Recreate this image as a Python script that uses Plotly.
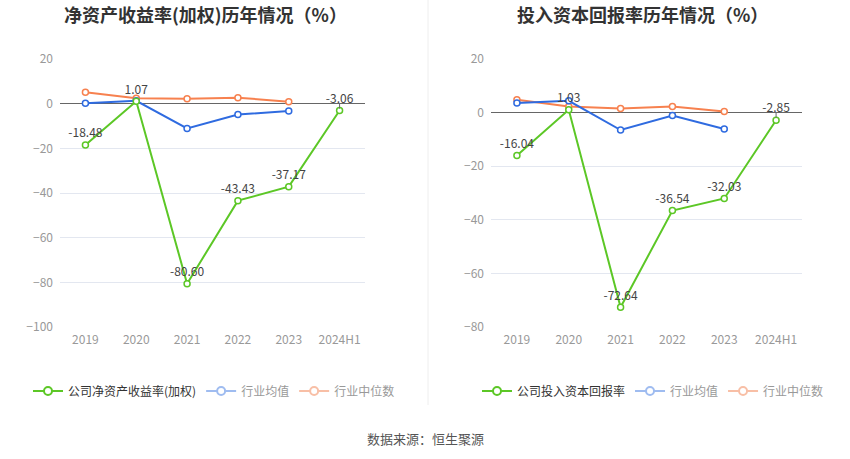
import plotly.graph_objects as go

years = ["2019", "2020", "2021", "2022", "2023", "2024H1"]

roe_company = [-18.48, 1.07, -80.60, -43.43, -37.17, -3.06]
roe_avg = [0.2, 1.3, -11.1, -4.9, -3.3, None]
roe_median = [5.1, 2.4, 2.2, 2.7, 0.9, None]

roic_company = [-16.04, 1.03, -72.64, -36.54, -32.03, -2.85]
roic_avg = [3.6, 4.4, -6.5, -1.1, -6.1, None]
roic_median = [4.8, 2.3, 1.5, 2.3, 0.4, None]

GREEN = "#5cc726"
BLUE = "#2f6be0"
ORANGE = "#f7814f"
BLUE_L = "#9fbcf0"
ORANGE_L = "#f8bfa6"
FONT = "Noto Sans CJK SC"

W, H = 850, 459


def px(p):
    return p / W


def py(p):
    return 1 - p / H


fig = go.Figure()


def add_panel(xa, ya, comp, avg, med, comp_name, legend):
    common = dict(mode="lines+markers", xaxis=xa, yaxis=ya, showlegend=False,
                  hoverinfo="x+y")
    fig.add_trace(go.Scatter(x=years, y=med, line=dict(color=ORANGE, width=2),
                             marker=dict(size=6, color="white", line=dict(color=ORANGE, width=1.5)),
                             **common))
    fig.add_trace(go.Scatter(x=years, y=avg, line=dict(color=BLUE, width=2),
                             marker=dict(size=6, color="white", line=dict(color=BLUE, width=1.5)),
                             **common))
    fig.add_trace(go.Scatter(x=years, y=comp, line=dict(color=GREEN, width=2),
                             marker=dict(size=6, color="white", line=dict(color=GREEN, width=1.5)),
                             text=[f"{v:.2f}" for v in comp], textposition="top center",
                             textfont=dict(size=12, color="#444", family=FONT),
                             mode="lines+markers+text", xaxis=xa, yaxis=ya,
                             showlegend=False, hoverinfo="x+y"))
    for name, col, tcol in [(comp_name, GREEN, "#333"), ("行业均值", BLUE_L, "#999"),
                            ("行业中位数", ORANGE_L, "#999")]:
        fig.add_trace(go.Scatter(x=[None], y=[None], mode="lines+markers",
                                 name=f"<span style='color:{tcol}'>{name}</span>",
                                 line=dict(color=col, width=2),
                                 marker=dict(size=8, color="white", line=dict(color=col, width=2)),
                                 xaxis=xa, yaxis=ya, legend=legend, showlegend=True))


add_panel("x", "y", roe_company, roe_avg, roe_median, "公司净资产收益率(加权)", "legend")
add_panel("x2", "y2", roic_company, roic_avg, roic_median, "公司投入资本回报率", "legend2")

ydom = [py(327), py(59)]
xcommon = dict(type="category", showgrid=False, showline=False, ticks="",
               tickfont=dict(size=12, color="#999", family=FONT), zeroline=False,
               range=[-0.5, 5.5], ticklabelstandoff=4)
ycommon = dict(dtick=20, showgrid=True, gridcolor="#e3e7f0", gridwidth=1,
               zeroline=True, zerolinecolor="#666", zerolinewidth=1,
               tickfont=dict(size=12, color="#999", family=FONT), ticks="",
               showline=False, ticklabelstandoff=6)

fig.update_layout(
    width=W, height=H,
    margin=dict(l=0, r=0, t=0, b=0, autoexpand=False),
    paper_bgcolor="white", plot_bgcolor="white",
    font=dict(family=FONT),
    xaxis=dict(domain=[px(60), px(365)], anchor="y", **xcommon),
    yaxis=dict(domain=ydom, anchor="x", range=[-100, 20], **ycommon),
    xaxis2=dict(domain=[px(491), px(802)], anchor="y2", **xcommon),
    yaxis2=dict(domain=ydom, anchor="x2", range=[-80, 20], **ycommon),
    legend=dict(orientation="h", x=px(28), y=py(391), xanchor="left", yanchor="middle",
                font=dict(size=12, color="#333", family=FONT), itemwidth=30,
                bgcolor="rgba(0,0,0,0)", itemclick=False),
    legend2=dict(orientation="h", x=px(477), y=py(391), xanchor="left", yanchor="middle",
                 font=dict(size=12, color="#333", family=FONT), itemwidth=30,
                 bgcolor="rgba(0,0,0,0)", itemclick=False),
    showlegend=True,
)

shapes = []
for xr, yr in [("x", "y"), ("x2", "y2")]:
    for yv in years:
        shapes.append(dict(type="line", xref=xr, yref=yr, x0=yv, x1=yv,
                           ysizemode="pixel", yanchor=0, y0=0, y1=-5,
                           line=dict(color="#666", width=1)))
shapes.append(dict(type="line", xref="paper", yref="paper", x0=px(428), x1=px(428),
                   y0=py(405), y1=1, line=dict(color="#eeeeee", width=1)))
fig.update_layout(shapes=shapes)

fig.add_annotation(text="<b>净资产收益率(加权)历年情况（%）</b>", x=px(205), y=py(14),
                   xref="paper", yref="paper", showarrow=False, xanchor="center", yanchor="middle",
                   font=dict(size=18, color="#333", family=FONT))
fig.add_annotation(text="<b>投入资本回报率历年情况（%）</b>", x=px(642), y=py(14),
                   xref="paper", yref="paper", showarrow=False, xanchor="center", yanchor="middle",
                   font=dict(size=18, color="#333", family=FONT))
fig.add_annotation(text="数据来源：恒生聚源", x=px(425), y=py(438),
                   xref="paper", yref="paper", showarrow=False, xanchor="center", yanchor="middle",
                   font=dict(size=13, color="#555", family=FONT))

fig.write_html("out.html", config={"displayModeBar": False},
               post_script="document.body.style.margin='0px';")
